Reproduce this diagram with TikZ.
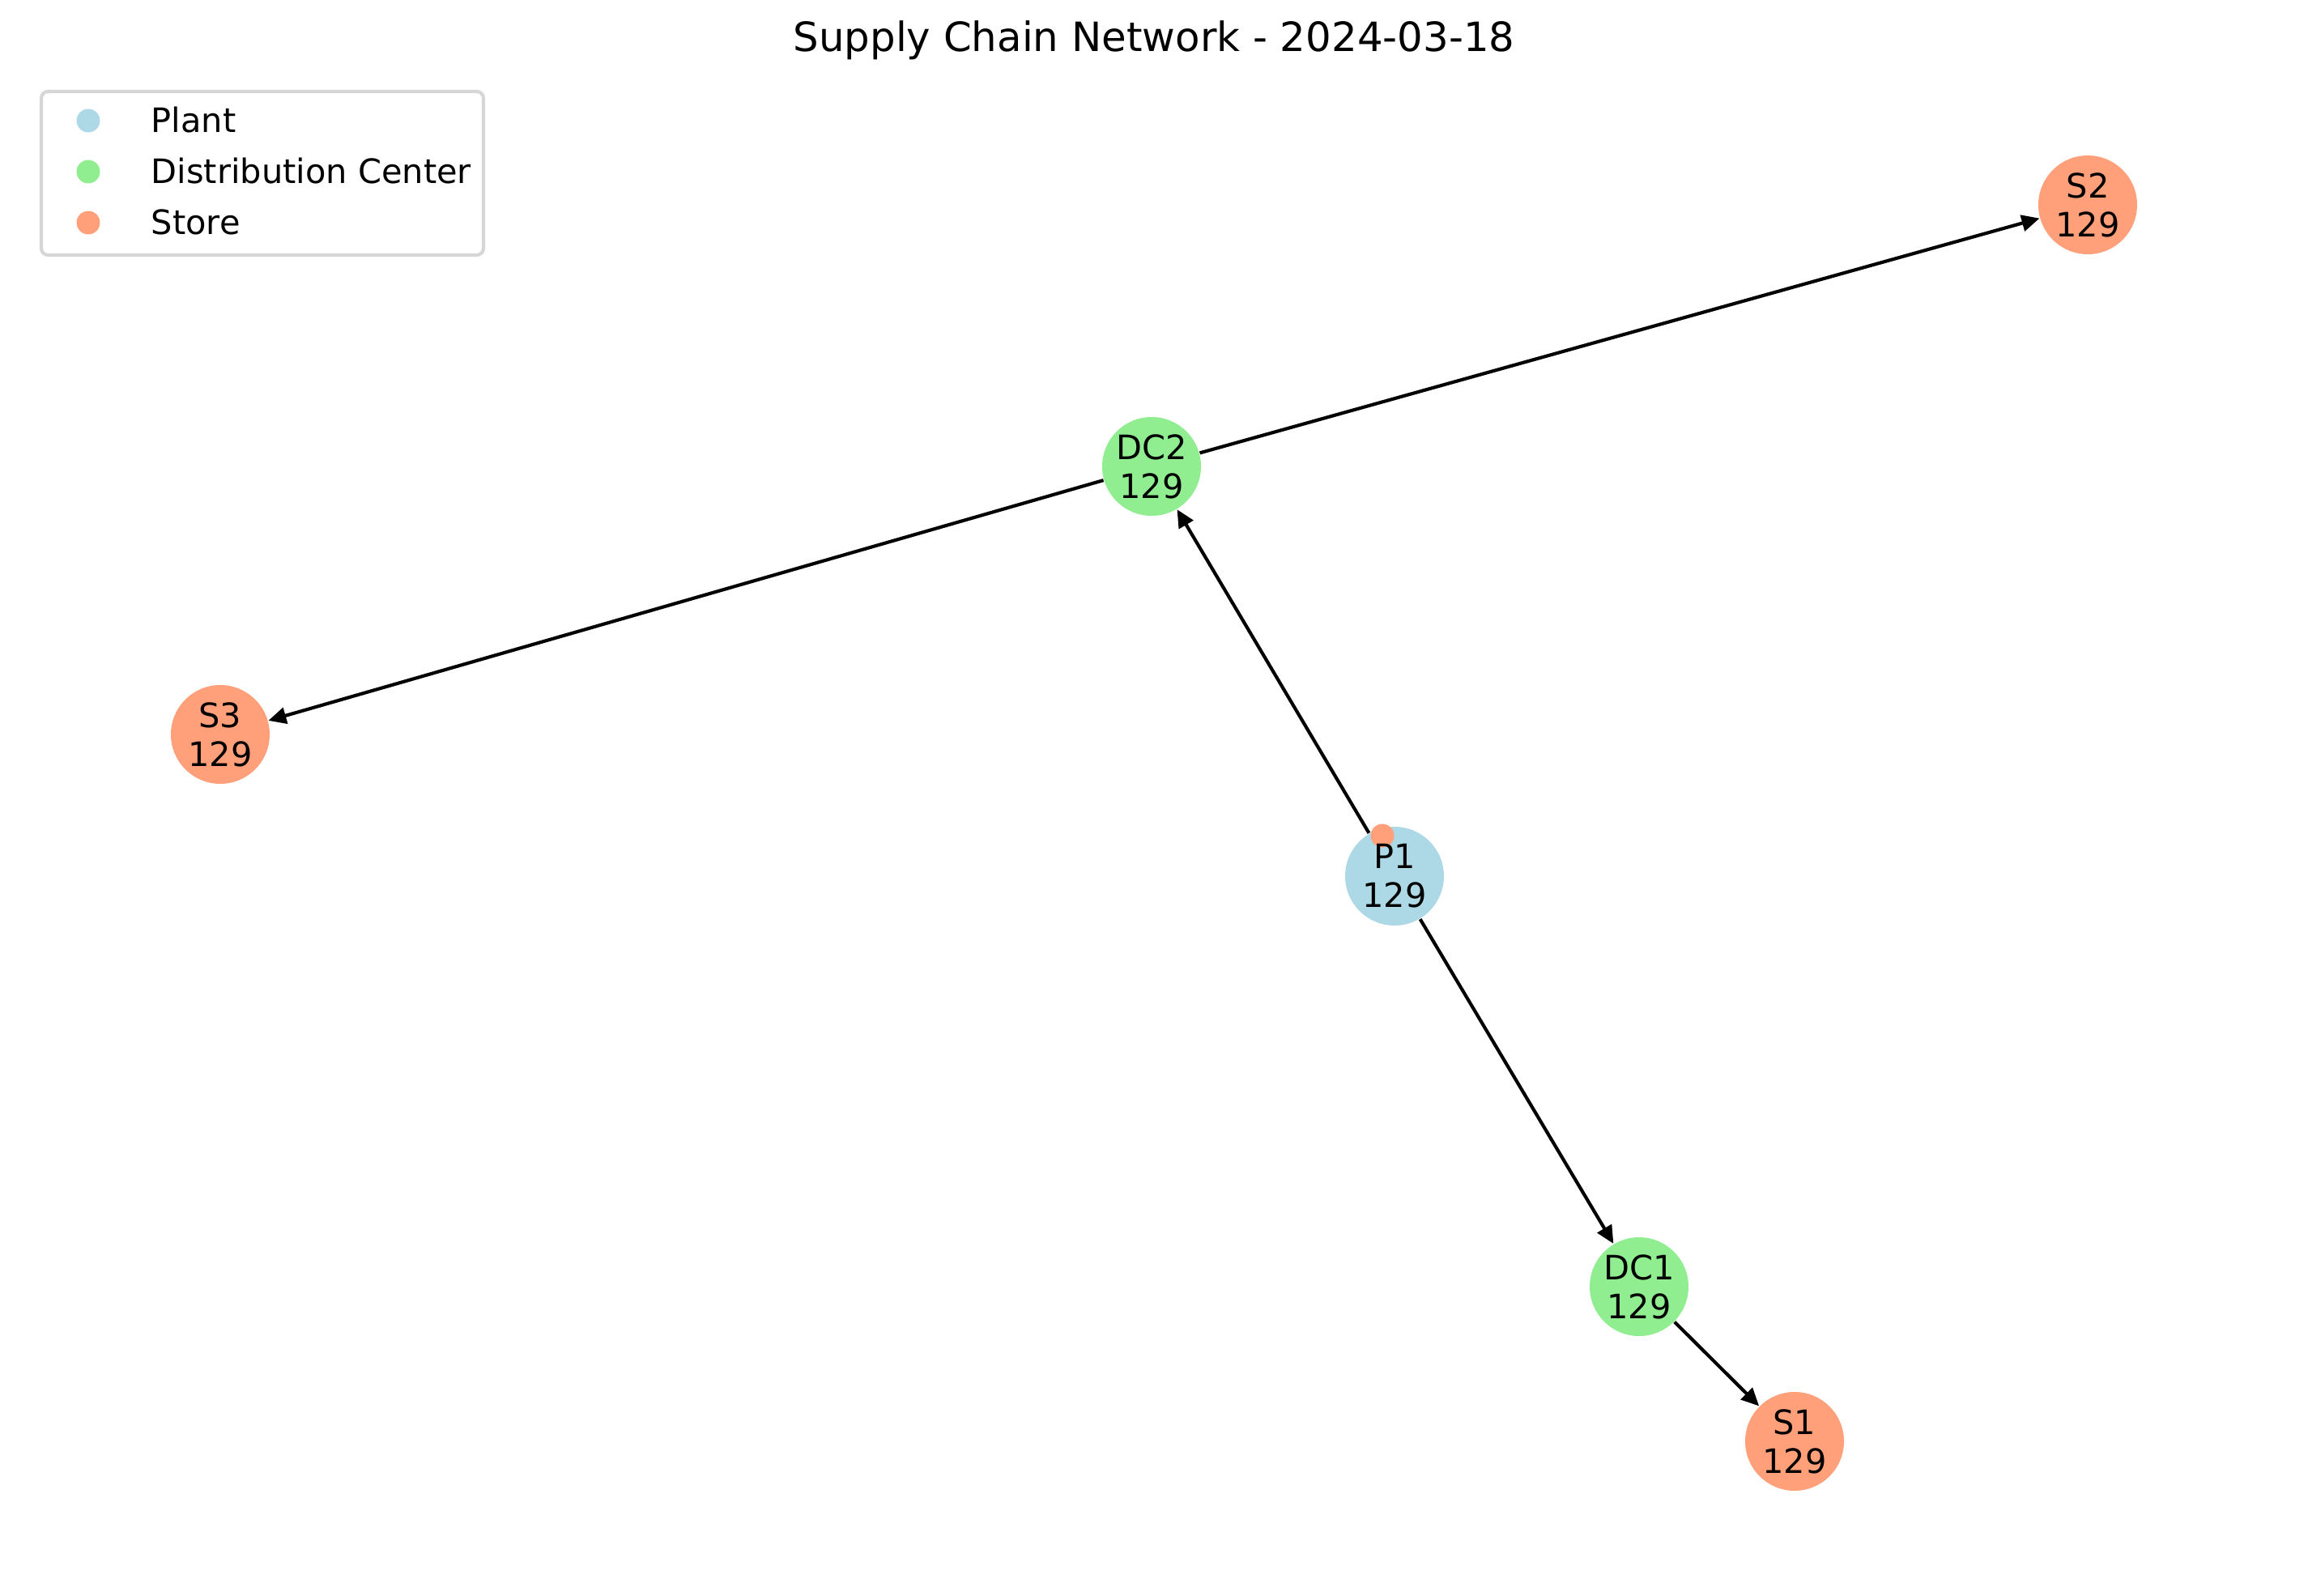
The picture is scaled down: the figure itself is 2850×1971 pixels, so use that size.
\documentclass[tikz,border=0pt]{standalone}
\usepackage{fontspec}
\setmainfont{DejaVu Sans}
\usetikzlibrary{arrows.meta}

\definecolor{plantblue}{HTML}{ADD8E6}
\definecolor{dcgreen}{HTML}{90EE90}
\definecolor{storesalmon}{HTML}{FFA07A}
\definecolor{framegray}{HTML}{D6D6D6}

\tikzset{
    site/.style={circle, minimum size=1.033cm, inner sep=0pt, align=center,
        font=\fontsize{10}{11.6}\selectfont},
    plant/.style={site, fill=plantblue},
    dc/.style={site, fill=dcgreen},
    store/.style={site, fill=storesalmon},
    flow/.style={-{Triangle[length=0.186cm, width=0.17cm]}, line width=1pt},
    legdot/.style={circle, inner sep=0pt, minimum size=0.245cm},
    legtext/.style={anchor=base west, inner sep=0pt, font=\fontsize{10}{12}\selectfont},
}

\begin{document}
\begin{tikzpicture}[x=0.084667mm, y=-0.084667mm]
                \useasboundingbox (0,0) rectangle (2850,1971);

                % title
                \node[font=\fontsize{12}{14}\selectfont] (title) at (1425,50) {Supply Chain Network - 2024-03-18};

                % sites
                \node[plant] (p1) at (1722,1082) {};
                \node[dc] (dc1) at (2024,1589) {DC1\\129};
                \node[dc] (dc2) at (1422,576) {DC2\\129};
                \node[store] (s1) at (2216,1780) {S1\\129};
                \node[store] (s2) at (2578,253) {S2\\129};
                \node[store] (s3) at (272,907) {S3\\129};

                % flows
                \draw[flow] (p1) -- (dc1);
                \draw[flow] (p1) -- (dc2);
                \draw[flow] (dc1) -- (s1);
                \draw[flow] (dc2) -- (s2);
                \draw[flow] (dc2) -- (s3);

                \node[legdot, fill=storesalmon] (stray) at (1707,1032) {};
                \node[site] (p1text) at (p1.center) {P1\\129};

                % legend
                \draw[framegray, line width=1pt, rounded corners=2pt] (51,113) rectangle (597,315);
                \node[legdot, fill=plantblue] (kplant) at (109,149) {};
                \node[legdot, fill=dcgreen] (kdc) at (109,212) {};
                \node[legdot, fill=storesalmon] (kstore) at (109,275) {};
                \node[legtext] (lplant) at (186,164) {Plant};
                \node[legtext] (ldc) at (186,227) {Distribution Center};
                \node[legtext] (lstore) at (186,290) {Store};
            \end{tikzpicture}
\end{document}
